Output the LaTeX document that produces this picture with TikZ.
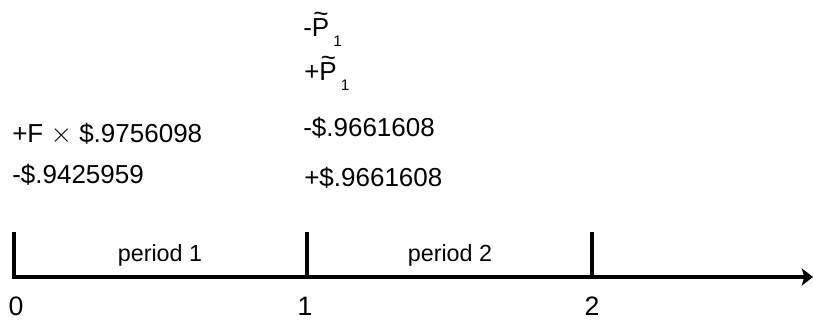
\documentclass[tikz,border=0pt]{standalone}
\usepackage{fontspec}
\setmainfont{Liberation Sans}
\usetikzlibrary{arrows.meta}

% forward price with tilde and subscript
\newcommand{\fwdprice}{\makebox[0pt][l]{\hspace{1pt}\raisebox{11pt}{\char`\~}}P\hspace{3pt}\raisebox{-7pt}{\fontsize{11.5}{12}\selectfont 1}}

\begin{document}
\begin{tikzpicture}[x=0.75pt, y=-0.75pt]
  % Styles
  \tikzstyle{cashflow} = [anchor=base west, inner sep=0pt, font=\fontsize{19.5}{22}\selectfont]
  \tikzstyle{periodlabel} = [anchor=base, inner sep=0pt, font=\fontsize{17.5}{20}\selectfont]
  \tikzstyle{datelabel} = [anchor=base, inner sep=0pt, font=\fontsize{20}{22}\selectfont]
  \tikzstyle{timeline} = [line width=2.7pt, line join=miter]

  \useasboundingbox (0,0) rectangle (813,320);

  % Time axis points
  \coordinate (d0) at (14,277);
  \coordinate (d1) at (307,277);
  \coordinate (d2) at (592,277);
  \coordinate (d0top) at (14,232);
  \coordinate (d1top) at (307,232);
  \coordinate (d2top) at (592,232);
  \coordinate (axisend) at (813,277);

  % Axis with ticks
  \draw[timeline, -{Stealth[length=8.5pt, width=13pt, inset=2pt]}] (d0top) -- (d0) -- (axisend);
  \draw[timeline] (d1top) -- (d1);
  \draw[timeline] (d2top) -- (d2);

  % Dates
  \node[datelabel] (date0) at (16,315) {0};
  \node[datelabel] (date1) at (305,315) {1};
  \node[datelabel] (date2) at (592,315) {2};

  % Periods
  \node[periodlabel] (per1) at (160,262) {period 1};
  \node[periodlabel] (per2) at (450,262) {period 2};

  % Cash flows at date 0
  \node[cashflow] (cfF) at (12,143) {+F $\times$ \$.9756098};
  \node[cashflow] (cfzero) at (12,184) {-\$.9425959};

  % Cash flows at date 1
  \node[cashflow] (fwdshort) at (303,37) {-\fwdprice};
  \node[cashflow] (fwdlong) at (304,81) {+\fwdprice};
  \node[cashflow] (cfpay) at (303,137) {-\$.9661608};
  \node[cashflow] (cfget) at (304,187) {+\$.9661608};
\end{tikzpicture}
\end{document}
